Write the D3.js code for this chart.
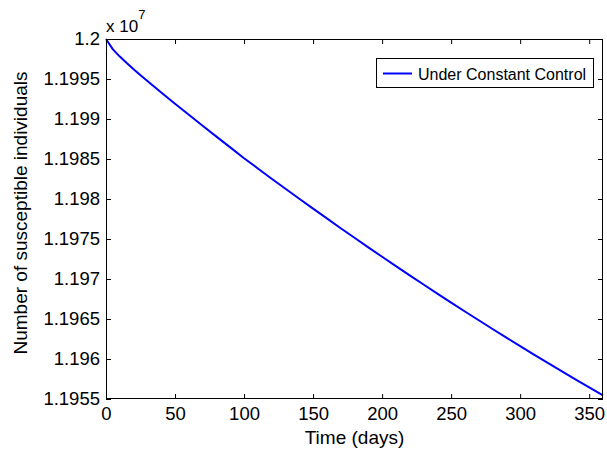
<!DOCTYPE html>
<html>
<head>
<meta charset="utf-8">
<script src="https://cdn.jsdelivr.net/npm/d3@7"></script>
<style>
  html, body { margin: 0; padding: 0; background: #fff; }
  svg { display: block; }
  text { font-family: "Liberation Sans", Arial, Helvetica, sans-serif; fill: #000; }
</style>
</head>
<body>
<svg id="chart" width="607" height="455"></svg>
<script>
// Time in days
const days = [0, 5, 10, 15, 20, 25, 30, 40, 50, 60, 70, 80, 90, 100, 110, 120, 130,
  140, 150, 160, 170, 180, 190, 200, 210, 220, 230, 240, 250, 260, 270, 280,
  290, 300, 310, 320, 330, 340, 350, 360];

// Susceptible individuals, in units of 10^7
const susceptible = [1.20000, 1.19987, 1.19978, 1.19970, 1.199623, 1.199548, 1.199475,
  1.19933, 1.19919, 1.199052, 1.198915, 1.19878, 1.198645, 1.19851, 1.198382,
  1.198254, 1.198128, 1.198003, 1.197879, 1.197757, 1.197635, 1.197515,
  1.197396, 1.197278, 1.197161, 1.197045, 1.196931, 1.196817, 1.196705,
  1.196594, 1.196484, 1.196375, 1.196267, 1.196161, 1.196055, 1.195951,
  1.195848, 1.195746, 1.195646, 1.195546];

const xTicks = [0, 50, 100, 150, 200, 250, 300, 350];
const yTicks = [1.1955, 1.196, 1.1965, 1.197, 1.1975, 1.198, 1.1985, 1.199, 1.1995, 1.2];
const seriesName = "Under Constant Control";

const svg = d3.select("#chart");
const plotLeft = 106, plotTop = 39, plotRight = 603, plotBottom = 399;

const x = d3.scaleLinear().domain([0, 360]).range([plotLeft, plotRight]);
const y = d3.scaleLinear().domain([1.1955, 1.2]).range([plotBottom, plotTop]);

const fmt = v => String(+v.toFixed(4));
const tickFont = 18.5;

// Axes with inward ticks on all four sides
const tickLen = 5;
const gx = svg.append("g").attr("transform", `translate(0,${plotBottom})`)
  .call(d3.axisBottom(x).tickValues(xTicks).tickFormat(d3.format("d"))
    .tickSizeInner(-tickLen).tickSizeOuter(0).tickPadding(8));
const gxTop = svg.append("g").attr("transform", `translate(0,${plotTop})`)
  .call(d3.axisTop(x).tickValues(xTicks).tickFormat("")
    .tickSizeInner(-tickLen).tickSizeOuter(0));
const gy = svg.append("g").attr("transform", `translate(${plotLeft},0)`)
  .call(d3.axisLeft(y).tickValues(yTicks).tickFormat(fmt)
    .tickSizeInner(-tickLen).tickSizeOuter(0).tickPadding(6));
const gyRight = svg.append("g").attr("transform", `translate(${plotRight},0)`)
  .call(d3.axisRight(y).tickValues(yTicks).tickFormat("")
    .tickSizeInner(-tickLen).tickSizeOuter(0));

[gx, gxTop, gy, gyRight].forEach(g => {
  g.select(".domain").remove();
  g.selectAll("line").attr("stroke", "#000").attr("stroke-width", 1);
  g.selectAll("text").attr("font-size", tickFont)
    .attr("font-family", "'Liberation Sans', Arial, sans-serif").attr("fill", "#000");
});

// Data line
const line = d3.line()
  .x((d, i) => x(days[i]))
  .y(d => y(d));
svg.append("path")
  .datum(susceptible)
  .attr("d", line)
  .attr("fill", "none")
  .attr("stroke", "#0000ff")
  .attr("stroke-width", 2)
  .attr("stroke-linejoin", "round");

// Box outline
svg.append("rect")
  .attr("x", plotLeft + 0.5).attr("y", plotTop + 0.5)
  .attr("width", plotRight - plotLeft - 1).attr("height", plotBottom - plotTop - 1)
  .attr("fill", "none").attr("stroke", "#000").attr("stroke-width", 1);

// Exponent marker
const expo = svg.append("text").attr("x", plotLeft).attr("y", 32).attr("font-size", 17);
expo.append("tspan").text("x 10");
expo.append("tspan").attr("dy", -13).attr("font-size", 13).text("7");

// Axis titles
svg.append("text")
  .attr("x", (plotLeft + plotRight) / 2).attr("y", 444)
  .attr("text-anchor", "middle").attr("font-size", 19)
  .text("Time (days)");
svg.append("text")
  .attr("transform", `translate(27,213) rotate(-90)`)
  .attr("text-anchor", "middle").attr("font-size", 19)
  .text("Number of susceptible individuals");

// Legend
const lg = svg.append("g");
lg.append("rect")
  .attr("x", 376.5).attr("y", 58.5).attr("width", 217).attr("height", 29)
  .attr("fill", "#fff").attr("stroke", "#000").attr("stroke-width", 1);
lg.append("line")
  .attr("x1", 383).attr("x2", 412).attr("y1", 73.5).attr("y2", 73.5)
  .attr("stroke", "#0000ff").attr("stroke-width", 2);
lg.append("text")
  .attr("x", 418).attr("y", 80).attr("font-size", 16)
  .text(seriesName);
</script>
</body>
</html>
